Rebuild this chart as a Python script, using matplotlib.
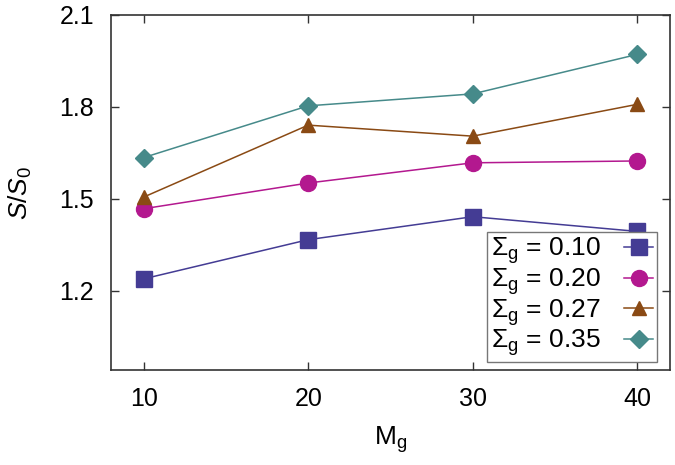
import matplotlib
matplotlib.use("Agg")
from matplotlib import pyplot as plt

plt.rcParams['font.family'] = ['Liberation Sans', 'DejaVu Sans']
plt.rcParams['mathtext.fontset'] = 'custom'
plt.rcParams['mathtext.rm'] = 'Liberation Sans'
plt.rcParams['mathtext.it'] = 'Liberation Sans:italic'

# M_g values
mg = [10, 20, 30, 40]
# S/S0 for each Sigma_g
s_010 = [1.238, 1.366, 1.441, 1.393]
s_020 = [1.467, 1.551, 1.617, 1.623]
s_027 = [1.505, 1.740, 1.704, 1.808]
s_035 = [1.634, 1.803, 1.842, 1.971]
labels = ["0.10", "0.20", "0.27", "0.35"]

fig = plt.figure(figsize=(6.75, 4.65), dpi=100)
ax = fig.add_axes([0.164, 0.204, 0.829, 0.764])

series = [s_010, s_020, s_027, s_035]
colors = ["#443c94", "#b3188f", "#8a4a14", "#468a8a"]
markers = ["s", "o", "^", "D"]
msizes = [11.5, 11.5, 10.5, 9]

for s, c, m, ms, lab in zip(series, colors, markers, msizes, labels):
    ax.plot(mg, s, color=c, marker=m, markersize=ms, lw=1.1,
            label=r"$\Sigma_\mathrm{g}$ = " + lab)

ax.set_xlim(8, 42)
ax.set_ylim(0.94, 2.1)
ax.set_xticks(mg)
ax.set_yticks([1.2, 1.5, 1.8, 2.1])
ax.tick_params(direction="in", top=True, right=True, length=6, width=1,
               labelsize=18, pad=12, color="#333333")
for sp in ax.spines.values():
    sp.set_color("#333333")
    sp.set_linewidth(1.2)

ax.set_xlabel(r"M$_\mathrm{g}$", fontsize=19, labelpad=10)
ax.set_ylabel(r"$S/S_0$", fontsize=19, labelpad=18)

leg = ax.legend(loc="lower right", bbox_to_anchor=(0.977, 0.022),
                markerfirst=False, fontsize=19, handlelength=1.1,
                labelspacing=0.0, handletextpad=0.9, borderpad=0.15,
                borderaxespad=0, fancybox=False, framealpha=1,
                edgecolor="#777777")
leg.get_frame().set_linewidth(1)

fig.savefig("out.png", dpi=100)
